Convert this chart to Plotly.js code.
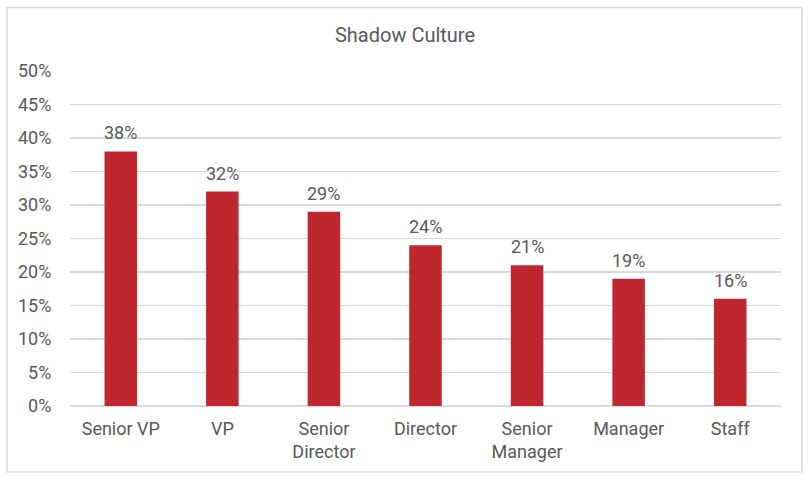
<!DOCTYPE html>
<html><head><meta charset="utf-8">
<script src="https://cdn.plot.ly/plotly-3.0.1.min.js"></script>
<style>html,body{margin:0;padding:0;background:#fff}#c{width:808px;height:477px}</style>
</head><body><div id="c"></div>
<script>
const categories = ["Senior VP", "VP", "Senior<br>Director", "Director", "Senior<br>Manager", "Manager", "Staff"];
const values = [0.38, 0.32, 0.29, 0.24, 0.21, 0.19, 0.16];
const yTicks = [0, 0.05, 0.10, 0.15, 0.20, 0.25, 0.30, 0.35, 0.40, 0.45, 0.50];

const grey = "#595959";
const font = {family: "Roboto, 'Open Sans', sans-serif", size: 18, color: grey};

const trace = {
  type: "bar", x: categories, y: values,
  marker: {color: "#BE272E"},
  width: 0.32,
  hoverinfo: "skip"
};

const annotations = categories.map((c, i) => ({
  x: c, y: values[i], xref: "x", yref: "y",
  text: Math.round(values[i] * 100) + "%",
  showarrow: false, yanchor: "bottom", yshift: 6,
  font: font
}));

const layout = {
  width: 808, height: 477,
  margin: {l: 70, r: 27, t: 70.5, b: 71},
  paper_bgcolor: "#fff", plot_bgcolor: "#fff",
  font: font,
  showlegend: false,
  title: {text: "Shadow Culture", x: 405/808, xref: "container", xanchor: "center",
          y: 1 - 35/477, yref: "container", yanchor: "middle",
          font: {family: font.family, size: 20, color: grey}},
  xaxis: {type: "category", showgrid: false, zeroline: false, showline: false,
          ticks: "outside", ticklen: 6, tickcolor: "rgba(0,0,0,0)", tickfont: font},
  yaxis: {range: [0, 0.5], tickvals: yTicks, tickformat: ".0%", showgrid: true,
          gridcolor: "#D9D9D9", gridwidth: 1.5, zeroline: true, zerolinecolor: "#D9D9D9", zerolinewidth: 1.5,
          showline: false, ticks: "outside", ticklen: 14, tickcolor: "rgba(0,0,0,0)", tickfont: font},
  annotations: annotations,
  shapes: [{type: "rect", xref: "paper", yref: "paper",
            x0: -63/711, x1: 732/711, y0: -66/335.5, y1: 399/335.5,
            line: {color: "#D9D9D9", width: 1.5}, fillcolor: "rgba(0,0,0,0)", layer: "below"}]
};

Plotly.newPlot("c", [trace], layout, {displayModeBar: false, staticPlot: true});
</script></body></html>
